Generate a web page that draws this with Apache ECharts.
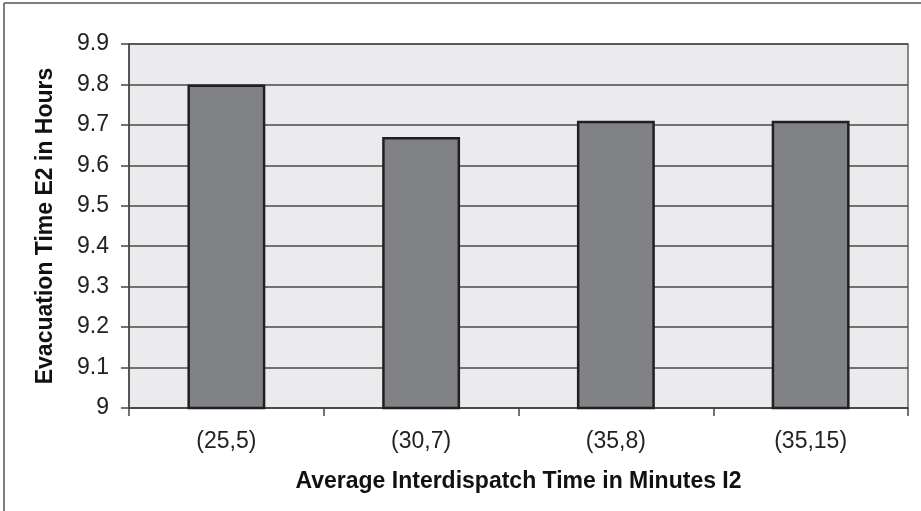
<!DOCTYPE html>
<html>
<head>
<meta charset="utf-8">
<script src="https://cdn.jsdelivr.net/npm/echarts@6/dist/echarts.min.js"></script>
<style>html,body{margin:0;padding:0;background:#fff;}#c{width:921px;height:511px;}</style>
</head>
<body>
<div id="c"></div>
<script>
const categories = ['(25,5)', '(30,7)', '(35,8)', '(35,15)'];
const evacuationTime = [9.80, 9.67, 9.71, 9.71];
const yMin = 9, yMax = 9.9, yStep = 0.1;
const xTitle = 'Average Interdispatch Time in Minutes I2';
const yTitle = 'Evacuation Time E2 in Hours';

const chart = echarts.init(document.getElementById('c'));
const font = 'Liberation Sans, Arial, sans-serif';
chart.setOption({
  animation: false,
  graphic: [
    {type: 'line', shape: {x1: 4, y1: 3, x2: 921, y2: 3}, style: {stroke: '#555', lineWidth: 1.5}},
    {type: 'line', shape: {x1: 4, y1: 3, x2: 4, y2: 511}, style: {stroke: '#555', lineWidth: 1.5}}
  ],
  grid: {left: 129, right: 13, top: 44, bottom: 103, show: true, backgroundColor: '#ebebed', borderColor: '#666', borderWidth: 1.5},
  xAxis: {
    type: 'category', data: categories,
    name: xTitle, nameLocation: 'middle', nameGap: 62,
    nameTextStyle: {fontFamily: font, fontSize: 23, fontWeight: 'bold', color: '#111'},
    axisLine: {lineStyle: {color: '#444', width: 1.5}},
    axisTick: {show: true, length: 8, lineStyle: {color: '#444', width: 1.5}},
    axisLabel: {fontFamily: font, fontSize: 23, color: '#222', margin: 22}
  },
  yAxis: {
    type: 'value', min: yMin, max: yMax, interval: yStep,
    name: yTitle, nameLocation: 'middle', nameGap: 72,
    nameTextStyle: {fontFamily: font, fontSize: 23, fontWeight: 'bold', color: '#111'},
    axisLine: {show: true, lineStyle: {color: '#444', width: 1.5}},
    axisTick: {show: true, length: 8, lineStyle: {color: '#444', width: 1.5}},
    axisLabel: {fontFamily: font, fontSize: 23, color: '#222', margin: 20,
      formatter: v => String(Math.round(v * 10) / 10)},
    splitLine: {show: true, lineStyle: {color: '#4a4a4a', width: 1.5}}
  },
  series: [{
    type: 'bar', data: evacuationTime, barWidth: '40%',
    itemStyle: {color: '#818285', borderColor: '#231f20', borderWidth: 2.5}
  }]
});
</script>
</body>
</html>
